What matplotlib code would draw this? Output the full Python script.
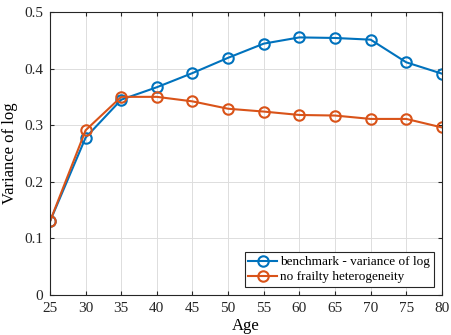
import numpy as np
import matplotlib.pyplot as plt

plt.rcParams['font.family'] = ['Liberation Serif', 'DejaVu Serif']

age = [25, 30, 35, 40, 45, 50, 55, 60, 65, 70, 75, 80]
benchmark = [0.130, 0.278, 0.345, 0.367, 0.392, 0.419, 0.444, 0.455, 0.454, 0.451, 0.411, 0.391]
no_frailty = [0.130, 0.291, 0.350, 0.350, 0.342, 0.329, 0.324, 0.318, 0.317, 0.311, 0.311, 0.296]

fig = plt.figure(figsize=(4.52, 3.35), dpi=100)
ax = fig.add_axes([0.1106, 0.1194, 0.867, 0.845])

ax.plot(age, benchmark, '-o', color='#0072BD', lw=1.5, ms=7.5, mfc='none', mew=1.5,
        label='benchmark - variance of log')
ax.plot(age, no_frailty, '-o', color='#D95319', lw=1.5, ms=7.5, mfc='none', mew=1.5,
        label='no frailty heterogeneity')

ax.set_xlim(25, 80)
ax.set_ylim(0, 0.5)
ax.set_xticks(np.arange(25, 81, 5))
ax.set_yticks([0, 0.1, 0.2, 0.3, 0.4, 0.5])
ax.set_yticklabels(['0', '0.1', '0.2', '0.3', '0.4', '0.5'])
ax.tick_params(direction='in', length=3, labelsize=11, colors='#262626', top=True, right=True, pad=5)
for s in ax.spines.values():
    s.set_color('#262626')
    s.set_linewidth(0.8)
ax.grid(True, color='#dddddd', lw=0.7)

ax.set_xlabel('Age', fontsize=12, labelpad=2)
ax.set_ylabel('Variance of log', fontsize=12)

leg = ax.legend(loc='lower right', fontsize=9.5, fancybox=False, framealpha=1,
                edgecolor='#262626', handlelength=2.2, borderpad=0.3,
                labelspacing=0.2, handletextpad=0.2, borderaxespad=0.6)
leg.get_frame().set_linewidth(0.8)

fig.savefig('out.png', dpi=100)
